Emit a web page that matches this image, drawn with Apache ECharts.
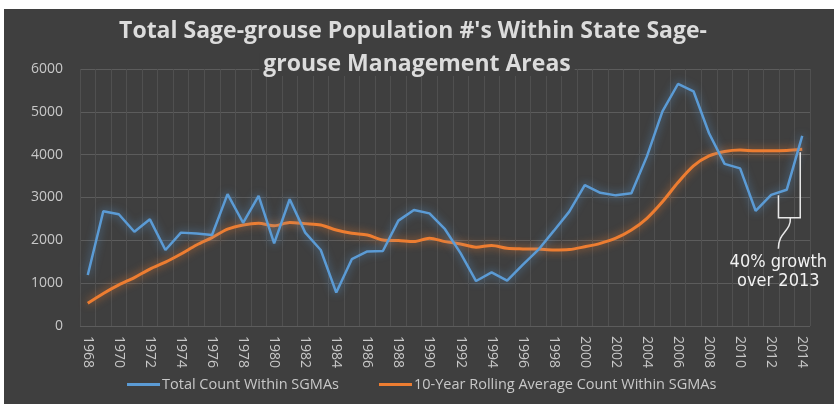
<!DOCTYPE html>
<html>
<head>
<meta charset="utf-8">
<script src="https://cdn.jsdelivr.net/npm/echarts@6/dist/echarts.min.js"></script>
<style>
html, body { margin: 0; padding: 0; background: #fff; }
#chart { position: absolute; left: 4px; top: 9px; width: 830px; height: 395px; background: #3f3f3f; }
</style>
</head>
<body>
<div id="chart"></div>
<script>
// data
var years = [];
for (var y = 1968; y <= 2014; y++) years.push(String(y));

var totalCount = [1190, 2680, 2610, 2200, 2490, 1775, 2180, 2160, 2125, 3080,
  2410, 3040, 1930, 2960, 2180, 1775, 780, 1560, 1740, 1750,
  2460, 2710, 2630, 2260, 1700, 1050, 1250, 1060, 1425, 1775,
  2220, 2670, 3290, 3110, 3050, 3100, 3960, 5010, 5650, 5480,
  4500, 3785, 3680, 2690, 3060, 3180, 4440];

var rollingAvg = [530, 760, 960, 1130, 1330, 1490, 1680, 1890, 2065, 2260,
  2360, 2400, 2340, 2415, 2390, 2360, 2240, 2165, 2125, 2010,
  1995, 1970, 2050, 1970, 1915, 1840, 1880, 1815, 1800, 1795,
  1775, 1785, 1850, 1930, 2050, 2240, 2515, 2900, 3350, 3740,
  3970, 4075, 4110, 4090, 4090, 4100, 4125];

var seriesNames = ['Total Count Within SGMAs', '10-Year Rolling Average Count Within SGMAs'];
var note = '40% growth\nover 2013';

var labelColor = '#c8c8c8';
var chart = echarts.init(document.getElementById('chart'));

var option = {
    backgroundColor: '#3f3f3f',
    title: [
        {
            text: "Total Sage-grouse Population #'s Within State Sage-",
            left: 409, top: 11, padding: 0, textAlign: 'center',
            textStyle: { color: '#dcdcdc', fontFamily: 'Open Sans', fontWeight: 'bold', fontSize: 23 }
        },
        {
            text: 'grouse Management Areas',
            left: 409, top: 44, padding: [0, 4], textAlign: 'center',
            backgroundColor: '#3f3f3f',
            textStyle: { color: '#dcdcdc', fontFamily: 'Open Sans', fontWeight: 'bold', fontSize: 23 }
        }
    ],
    legend: {
        left: 123, top: 368, padding: 0,
        itemWidth: 33, itemHeight: 3, itemGap: 40,
        icon: 'rect',
        textStyle: { color: labelColor, fontFamily: 'Open Sans', fontSize: 14.5, padding: [0, 0, 0, -3] },
        data: seriesNames
    },
    grid: { left: 76, right: 24, top: 60, bottom: 78, containLabel: false },
    xAxis: {
        type: 'category',
        data: years,
        boundaryGap: true,
        axisLine: { show: false },
        axisTick: { show: false },
        axisLabel: {
            interval: 1, rotate: -90, margin: 10,
            color: labelColor, fontFamily: 'Open Sans', fontSize: 14
        },
        splitLine: { show: true, interval: 0, lineStyle: { color: '#505050', width: 1 } }
    },
    yAxis: {
        type: 'value',
        min: 0, max: 6000, interval: 1000,
        axisLine: { show: false },
        axisTick: { show: false },
        axisLabel: {
            margin: 17, color: labelColor, fontFamily: 'Open Sans', fontSize: 14,
            formatter: function (v) { return String(v); }
        },
        splitLine: { lineStyle: { color: '#5c5c5c', width: 1 } }
    },
    series: [
        {
            name: seriesNames[0],
            type: 'line',
            data: totalCount,
            symbol: 'none',
            color: '#5b9bd5',
            lineStyle: { width: 2.5, color: '#5b9bd5', shadowBlur: 8, shadowColor: 'rgba(91,155,213,0.75)' },
            z: 3
        },
        {
            name: seriesNames[1],
            type: 'line',
            data: rollingAvg,
            symbol: 'none',
            smooth: 0.3,
            color: '#ed7d31',
            lineStyle: { width: 3, color: '#ed7d31', shadowBlur: 8, shadowColor: 'rgba(237,125,49,0.75)' },
            z: 2
        }
    ]
};
chart.setOption(option);

// bracket + note tied to the 2013 / 2014 points
var n = years.length;
var p12 = chart.convertToPixel({ xAxisIndex: 0, yAxisIndex: 0 }, [n - 3, totalCount[n - 3]]);
var p13 = chart.convertToPixel({ xAxisIndex: 0, yAxisIndex: 0 }, [n - 2, totalCount[n - 2]]);
var p14 = chart.convertToPixel({ xAxisIndex: 0, yAxisIndex: 0 }, [n - 1, rollingAvg[n - 1]]);
var bottomY = chart.convertToPixel({ yAxisIndex: 0 }, 2530);
var lx = (p12[0] + p13[0]) / 2 - 0.5;
var ly = (p12[1] + p13[1]) / 2 + 3;
var rx = p14[0] - 2;
var ry = p14[1] + 3;
var mx = (lx + rx) / 2 + 1;

chart.setOption({
    graphic: [
        {
            type: 'polyline', silent: true, z: 10,
            shape: { points: [[lx, ly], [lx, bottomY], [rx, bottomY], [rx, ry]] },
            style: { stroke: '#e8e8e8', lineWidth: 1.5, fill: null }
        },
        {
            type: 'bezierCurve', silent: true, z: 10,
            shape: { x1: mx, y1: bottomY, cpx1: mx + 1, cpy1: bottomY + 14, cpx2: mx - 12, cpy2: bottomY + 14, x2: mx - 12, y2: bottomY + 31 },
            style: { stroke: '#e8e8e8', lineWidth: 1.5, fill: null }
        },
        {
            type: 'text', silent: true, z: 10,
            x: mx - 12, y: bottomY + 35,
            style: {
                text: note, align: 'center', verticalAlign: 'top',
                fill: '#f2f2f2', fontSize: 18, lineHeight: 19,
                fontFamily: "'Liberation Sans Narrow', 'DejaVu Sans Condensed', Roboto"
            }
        }
    ]
});

window.addEventListener('resize', function () {
    chart.resize();
});
</script>
</body>
</html>
